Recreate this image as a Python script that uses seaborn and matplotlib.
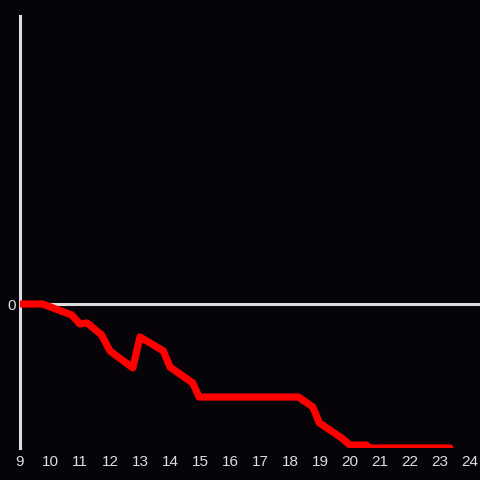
import numpy as np
import pandas as pd
import seaborn as sns
import matplotlib
matplotlib.use("Agg")
import matplotlib.pyplot as plt

# hour of day vs. relative value (scaled so the minimum is -1)
hours = [9.0, 9.75, 10.72, 11.0, 11.24, 11.72, 12.0, 12.76, 13.0, 13.78,
         14.0, 14.76, 14.97, 18.28, 18.76, 18.98, 19.72, 20.0, 20.55, 20.6, 23.33]
values = [0.0, 0.0, -0.076, -0.139, -0.132, -0.215, -0.326, -0.444, -0.229, -0.326,
          -0.438, -0.549, -0.646, -0.646, -0.715, -0.826, -0.93, -0.98, -0.98, -1.0, -1.0]
xticks = list(range(9, 25))

bg = "#060408"
fg = "#dddddd"

df = pd.DataFrame({"hour": hours, "value": values})

sns.set_style("dark")
plt.rcParams["font.family"] = ["Liberation Sans", "DejaVu Sans"]

fig = plt.figure(figsize=(4.8, 4.8), dpi=100, facecolor=bg)
ax = fig.add_axes([20 / 480, 32 / 480, 460 / 480, 432 / 480])
ax.set_facecolor(bg)

ax.axhline(0, color=fg, lw=2.2, zorder=1)
sns.lineplot(data=df, x="hour", y="value", color="#ff0000", lw=5.2, ax=ax, zorder=3)

ax.set_xlim(9, 24.333)
ax.set_ylim(-1, 2)
ax.set_xticks(xticks)
ax.set_xticklabels([str(t) for t in xticks])
ax.set_yticks([0])
ax.set_yticklabels(["0"])
ax.tick_params(axis="both", length=0, colors=fg, labelsize=11)
ax.tick_params(axis="x", pad=5)
ax.tick_params(axis="y", pad=3)
ax.set_xlabel("")
ax.set_ylabel("")
ax.grid(False)

for s in ["top", "right", "bottom"]:
    ax.spines[s].set_visible(False)
ax.spines["left"].set_visible(True)
ax.spines["left"].set_color(fg)
ax.spines["left"].set_linewidth(2.2)

fig.savefig("out.png", dpi=100, facecolor=bg)
